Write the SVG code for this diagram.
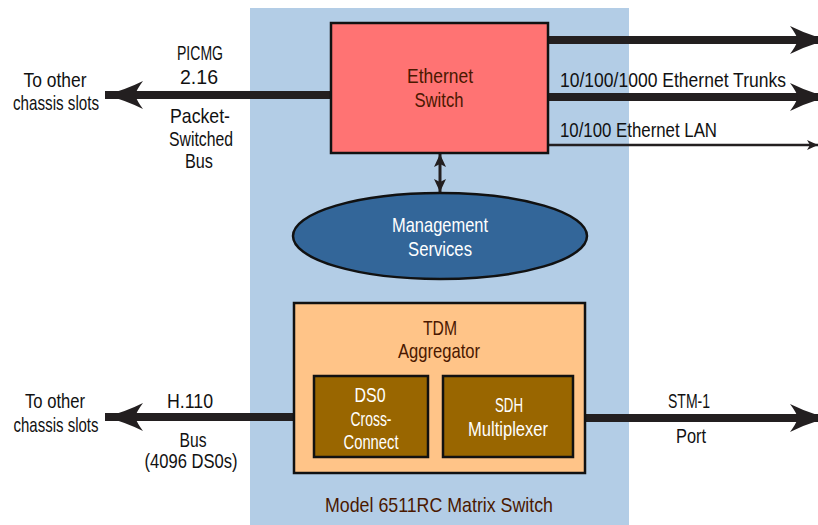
<svg xmlns="http://www.w3.org/2000/svg" width="818" height="525" viewBox="0 0 818 525">
<defs>
<style>
text{font-family:"Liberation Sans",Arial,sans-serif;font-size:21px;text-anchor:middle}
.blk{fill:#111}
.wht{fill:#fff}
.dk{fill:#4a1800}
.thick{stroke:#231f20;stroke-width:8;fill:none}
.box{stroke:#111;stroke-width:2.5}
</style>
<marker id="big" markerUnits="userSpaceOnUse" viewBox="-40 -16 42 32" refX="0" refY="0" markerWidth="42" markerHeight="32" orient="auto">
<path d="M0,0 Q-20,-5 -38,-14 Q-32,-6 -30,0 Q-32,6 -38,14 Q-20,5 0,0 Z" fill="#231f20"/>
</marker>
<marker id="small" markerUnits="userSpaceOnUse" viewBox="-12 -6 13 12" refX="0" refY="0" markerWidth="13" markerHeight="12" orient="auto">
<path d="M0,0 L-11,-5 L-8,0 L-11,5 Z" fill="#231f20"/>
</marker>
<marker id="mid" markerUnits="userSpaceOnUse" viewBox="-14 -7 15 14" refX="0" refY="0" markerWidth="15" markerHeight="14" orient="auto-start-reverse">
<path d="M0,0 L-13,-6 L-10,0 L-13,6 Z" fill="#231f20"/>
</marker>
</defs>
<rect x="250" y="8" width="379" height="520" fill="#b3cde6"/>
<g id="connectors">
<line class="thick" x1="548" y1="40" x2="828" y2="40" marker-end="url(#big)"/>
<line class="thick" x1="548" y1="97" x2="828" y2="97" marker-end="url(#big)"/>
<line stroke="#231f20" stroke-width="2.5" x1="548" y1="145" x2="818" y2="145" marker-end="url(#small)"/>
<line class="thick" x1="331" y1="95" x2="105" y2="95" marker-end="url(#big)"/>
<line stroke="#231f20" stroke-width="3" x1="440" y1="154" x2="440" y2="192" marker-start="url(#mid)" marker-end="url(#mid)"/>
<line class="thick" x1="314" y1="417" x2="105" y2="417" marker-end="url(#big)"/>
<line class="thick" x1="573" y1="418" x2="828" y2="418" marker-end="url(#big)"/>
<text class="blk" x="200" y="60" textLength="46" lengthAdjust="spacingAndGlyphs">PICMG</text>
<text class="blk" x="199" y="84" textLength="38" lengthAdjust="spacingAndGlyphs">2.16</text>
<text class="blk" x="200" y="123" textLength="60" lengthAdjust="spacingAndGlyphs">Packet-</text>
<text class="blk" x="201" y="146" textLength="64" lengthAdjust="spacingAndGlyphs">Switched</text>
<text class="blk" x="199" y="168" textLength="28" lengthAdjust="spacingAndGlyphs">Bus</text>
<text class="blk" x="55" y="87" textLength="63" lengthAdjust="spacingAndGlyphs">To other</text>
<text class="blk" x="56" y="110" textLength="86" lengthAdjust="spacingAndGlyphs">chassis slots</text>
<text class="blk" x="560" y="87" style="text-anchor:start" textLength="226" lengthAdjust="spacingAndGlyphs">10/100/1000 Ethernet Trunks</text>
<text class="blk" x="560" y="137" style="text-anchor:start" textLength="157" lengthAdjust="spacingAndGlyphs">10/100 Ethernet LAN</text>
<text class="blk" x="190" y="408" textLength="46" lengthAdjust="spacingAndGlyphs">H.110</text>
<text class="blk" x="193" y="447" textLength="27" lengthAdjust="spacingAndGlyphs">Bus</text>
<text class="blk" x="191" y="468" textLength="93" lengthAdjust="spacingAndGlyphs">(4096 DS0s)</text>
<text class="blk" x="55" y="408" textLength="60" lengthAdjust="spacingAndGlyphs">To other</text>
<text class="blk" x="56" y="432" textLength="85" lengthAdjust="spacingAndGlyphs">chassis slots</text>
<text class="blk" x="689" y="408" textLength="42" lengthAdjust="spacingAndGlyphs">STM-1</text>
<text class="blk" x="691" y="443" textLength="30" lengthAdjust="spacingAndGlyphs">Port</text>
</g>
<g id="ethernet-switch">
<rect class="box" x="331" y="23" width="217" height="130" fill="#ff7373"/>
<text class="dk" x="440" y="83" textLength="66" lengthAdjust="spacingAndGlyphs">Ethernet</text>
<text class="dk" x="439" y="107" textLength="49" lengthAdjust="spacingAndGlyphs">Switch</text>
</g>
<g id="management-services">
<ellipse cx="440" cy="236" rx="147" ry="43" fill="#336699" stroke="#111" stroke-width="2.5"/>
<text class="wht" x="440" y="232" textLength="96" lengthAdjust="spacingAndGlyphs">Management</text>
<text class="wht" x="440" y="256" textLength="64" lengthAdjust="spacingAndGlyphs">Services</text>
</g>
<g id="tdm-aggregator">
<rect class="box" x="294" y="303" width="291" height="170" fill="#ffc488"/>
<text class="dk" x="440" y="335" textLength="34" lengthAdjust="spacingAndGlyphs">TDM</text>
<text class="dk" x="439" y="358" textLength="82" lengthAdjust="spacingAndGlyphs">Aggregator</text>
</g>
<g id="ds0-cross-connect">
<rect class="box" x="314" y="376" width="114" height="81" fill="#996600"/>
<text class="wht" x="370" y="402" textLength="31" lengthAdjust="spacingAndGlyphs">DS0</text>
<text class="wht" x="371" y="426" textLength="41" lengthAdjust="spacingAndGlyphs">Cross-</text>
<text class="wht" x="371" y="449" textLength="55" lengthAdjust="spacingAndGlyphs">Connect</text>
</g>
<g id="sdh-multiplexer">
<rect class="box" x="443" y="376" width="130" height="81" fill="#996600"/>
<text class="wht" x="509" y="412" textLength="28" lengthAdjust="spacingAndGlyphs">SDH</text>
<text class="wht" x="508" y="436" textLength="80" lengthAdjust="spacingAndGlyphs">Multiplexer</text>
</g>
<g id="model-label">
<text class="dk" x="439" y="512" textLength="228" lengthAdjust="spacingAndGlyphs">Model 6511RC Matrix Switch</text>
</g>
</svg>
